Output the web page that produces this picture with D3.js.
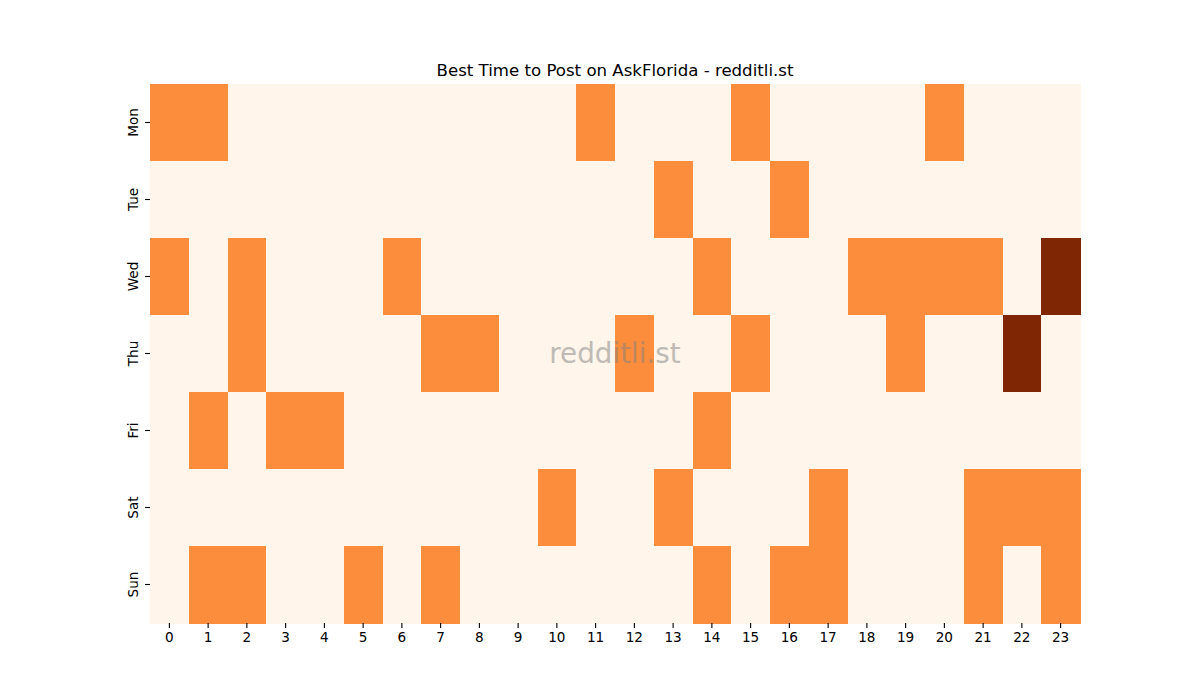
<!DOCTYPE html>
<html>
<head>
<meta charset="utf-8">
<script src="https://cdn.jsdelivr.net/npm/d3@7"></script>
<style>
  body { margin: 0; background: #fff; }
  text { font-family: "DejaVu Sans", sans-serif; }
</style>
</head>
<body>
<svg id="chart" width="1200" height="700"></svg>
<script>
// Days and hours
const days = ["Mon", "Tue", "Wed", "Thu", "Fri", "Sat", "Sun"];
const hours = d3.range(24);

// Posts per hour, one row per day (0..23)
const monValues = [1,1,0,0,0,0,0,0,0,0,0,1,0,0,0,1,0,0,0,0,1,0,0,0];
const tueValues = [0,0,0,0,0,0,0,0,0,0,0,0,0,1,0,0,1,0,0,0,0,0,0,0];
const wedValues = [1,0,1,0,0,0,1,0,0,0,0,0,0,0,1,0,0,0,1,1,1,1,0,2];
const thuValues = [0,0,1,0,0,0,0,1,1,0,0,0,1,0,0,1,0,0,0,1,0,0,2,0];
const friValues = [0,1,0,1,1,0,0,0,0,0,0,0,0,0,1,0,0,0,0,0,0,0,0,0];
const satValues = [0,0,0,0,0,0,0,0,0,0,1,0,0,1,0,0,0,1,0,0,0,1,1,1];
const sunValues = [0,1,1,0,0,1,0,1,0,0,0,0,0,0,1,0,1,1,0,0,0,1,0,1];

const rows = [monValues, tueValues, wedValues, thuValues, friValues, satValues, sunValues];

function drawHeatmap() {
    const svg = d3.select("#chart"),
          margin = { top: 84, right: 120, bottom: 77, left: 150 },
          width = 1200 - margin.left - margin.right,
          height = 700 - margin.top - margin.bottom;

    const g = svg.append("g").attr("transform", `translate(${margin.left},${margin.top})`);

    const x = d3.scaleBand().domain(hours).range([0, width]);
    const y = d3.scaleBand().domain(days).range([0, height]);

    const maxVal = d3.max(rows, r => d3.max(r));
    const color = d3.scaleSequential(d3.interpolateOranges).domain([0, maxVal]);

    const cells = [];
    rows.forEach((r, i) => r.forEach((v, h) => cells.push({ day: days[i], hour: h, value: v })));

    g.selectAll("rect")
        .data(cells)
        .enter().append("rect")
        .attr("x", d => x(d.hour))
        .attr("y", d => y(d.day))
        .attr("width", x.bandwidth() + 0.5)
        .attr("height", y.bandwidth() + 0.5)
        .attr("fill", d => color(d.value))
        .attr("shape-rendering", "crispEdges");

    // X axis
    const xAxis = g.append("g")
        .attr("transform", `translate(0,${height})`)
        .call(d3.axisBottom(x).tickSize(4.9).tickPadding(4));
    xAxis.select(".domain").remove();
    xAxis.selectAll("text").style("font-size", "13.6px").attr("fill", "#000");
    xAxis.selectAll("line").attr("stroke", "#000").attr("stroke-width", 1.1);

    // Y axis
    const yAxis = g.append("g")
        .call(d3.axisLeft(y).tickSize(4.9).tickPadding(4));
    yAxis.select(".domain").remove();
    yAxis.selectAll("line").attr("stroke", "#000").attr("stroke-width", 1.1);
    yAxis.selectAll("text")
        .style("font-size", "13.6px")
        .attr("fill", "#000")
        .attr("x", null)
        .attr("dy", null)
        .attr("text-anchor", "middle")
        .attr("transform", "translate(-17,0) rotate(-90)")
        .attr("dominant-baseline", "central");

    // Title
    svg.append("text")
        .attr("x", margin.left + width / 2)
        .attr("y", 76)
        .attr("text-anchor", "middle")
        .style("font-size", "16.6px")
        .text("Best Time to Post on AskFlorida - redditli.st");

    // Watermark
    svg.append("text")
        .attr("x", margin.left + width / 2)
        .attr("y", margin.top + height / 2)
        .attr("text-anchor", "middle")
        .attr("dominant-baseline", "central")
        .attr("fill", "#808080")
        .attr("opacity", 0.5)
        .style("font-size", "27.8px")
        .text("redditli.st");
}

window.onload = drawHeatmap;
</script>
</body>
</html>
